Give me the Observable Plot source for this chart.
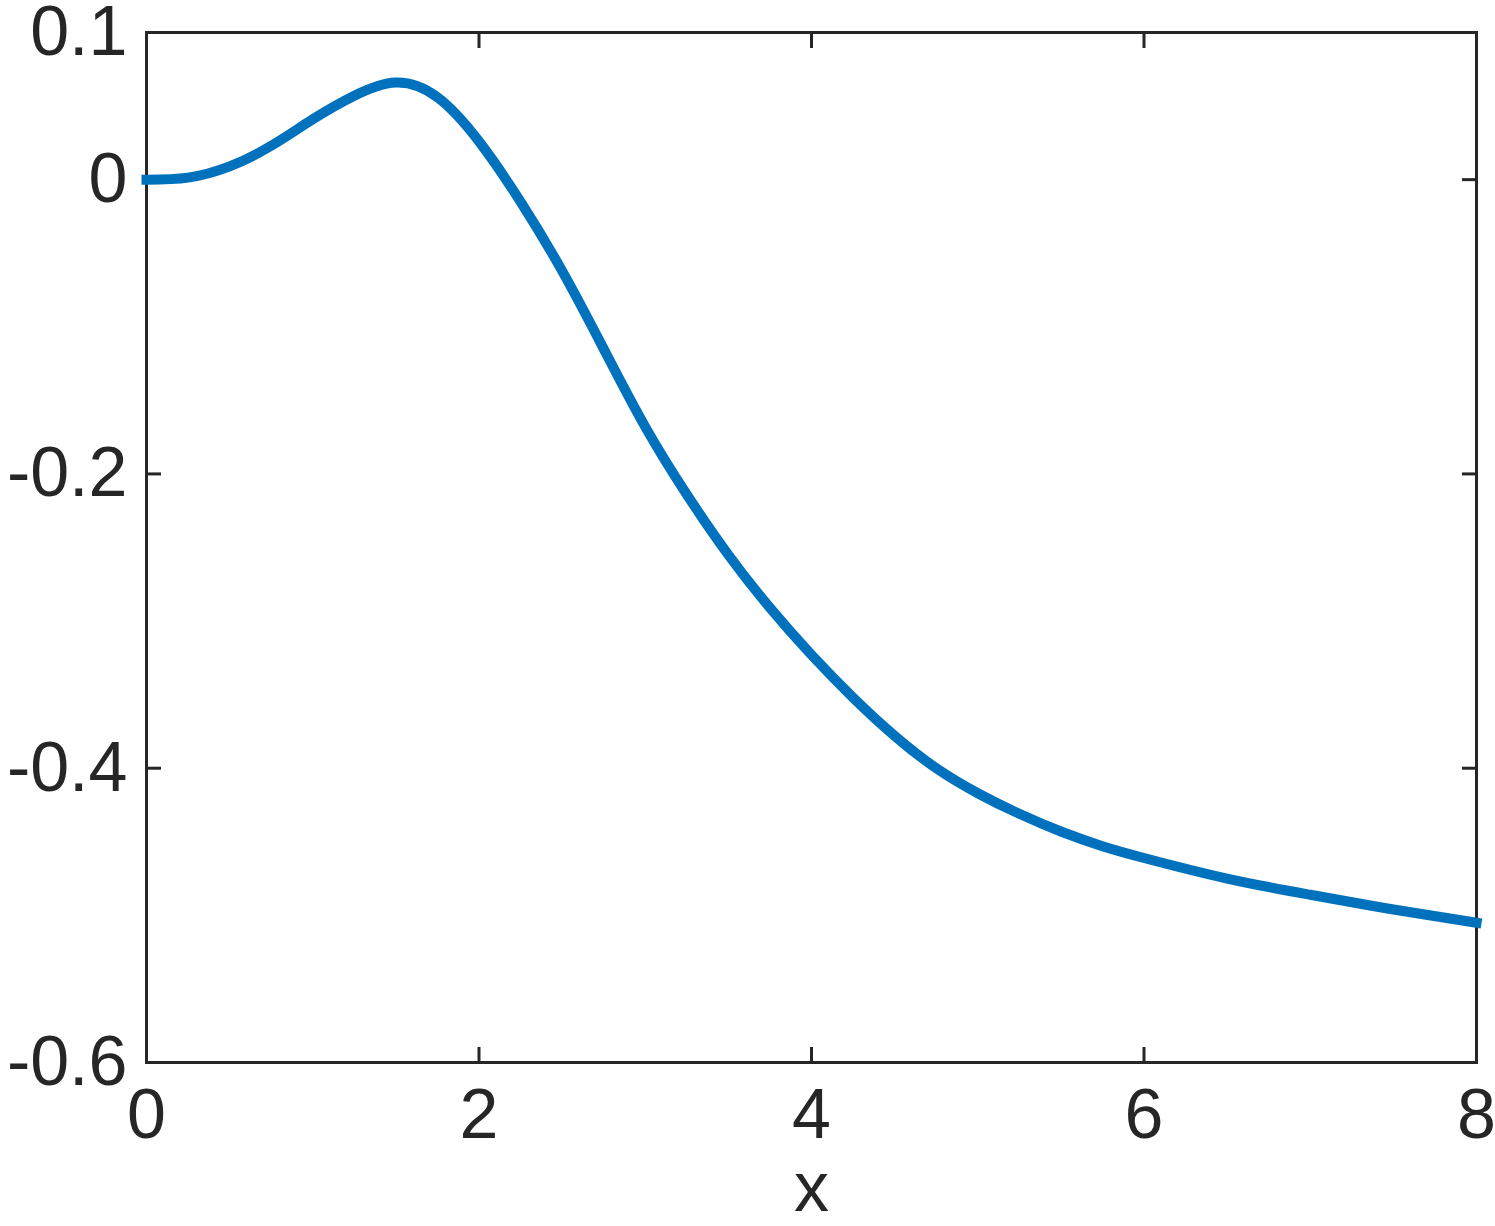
<!DOCTYPE html>
<html><head><meta charset="utf-8">
<script src="https://cdn.jsdelivr.net/npm/d3@7"></script>
<script src="https://cdn.jsdelivr.net/npm/@observablehq/plot@0.6"></script>
<style>html,body{margin:0;padding:0;background:#fff}</style>
</head><body><div id="chart"></div>
<script>
const xs = [0, 0.25, 0.5, 0.75, 1.0, 1.25, 1.5, 1.75, 2.0, 2.25, 2.5, 2.75, 3.0, 3.25, 3.5, 3.75, 4.0, 4.25, 4.5, 4.75, 5.0, 5.25, 5.5, 5.75, 6.0, 6.5, 7.0, 7.5, 8.0];
const ys = [0, 0.0014, 0.009, 0.023, 0.041, 0.057, 0.066, 0.056, 0.026, -0.015, -0.062, -0.115, -0.168, -0.214, -0.255, -0.291, -0.323, -0.352, -0.378, -0.400, -0.417, -0.431, -0.443, -0.453, -0.461, -0.475, -0.486, -0.496, -0.505];
const xTicks = [0, 2, 4, 6, 8];
const xTickLabels = ["0", "2", "4", "6", "8"];
const yTicks = [0.1, 0, -0.2, -0.4, -0.6];
const yTickLabels = ["0.1", "0", "-0.2", "-0.4", "-0.6"];
const xLabel = "x";

const data = xs.map((x, i) => ({x, y: ys[i]}));
const ink = "#262626";
const fmtX = d => xTickLabels[xTicks.indexOf(d)];
const fmtY = d => yTickLabels[yTicks.indexOf(d)];

const chart = Plot.plot({
  width: 1495, height: 1226,
  marginLeft: 146, marginRight: 19, marginTop: 32, marginBottom: 164,
  style: {fontFamily: "'Liberation Sans', Arial, Helvetica, sans-serif", fontSize: "70px", color: ink, background: "#fff", overflow: "visible"},
  x: {domain: [0, 8], label: null},
  y: {domain: [-0.6, 0.1], label: null},
  marks: [
    Plot.frame({stroke: ink, strokeWidth: 3}),
    // inward ticks on all four sides
    Plot.axisX(xTicks, {anchor: "bottom", tickSize: 15, dy: -15, strokeWidth: 3, stroke: ink, fill: "none", label: null}),
    Plot.axisX(xTicks, {anchor: "top", tickSize: 15, dy: 15, strokeWidth: 3, stroke: ink, fill: "none", label: null}),
    Plot.axisY(yTicks, {anchor: "left", tickSize: 15, dx: 15, strokeWidth: 3, stroke: ink, fill: "none", label: null}),
    Plot.axisY(yTicks, {anchor: "right", tickSize: 15, dx: -15, strokeWidth: 3, stroke: ink, fill: "none", label: null}),
    // tick labels
    Plot.axisX(xTicks, {anchor: "bottom", tickSize: 0, tickPadding: 26, tickFormat: fmtX, fill: ink, fontSize: 70,
      label: xLabel, labelAnchor: "center", labelOffset: 148, labelArrow: "none"}),
    Plot.axisY(yTicks, {anchor: "left", tickSize: 0, tickPadding: 19, tickFormat: fmtY, fill: ink, fontSize: 70, label: null}),
    Plot.line(data, {x: "x", y: "y", stroke: "#0072BD", strokeWidth: 10, curve: "natural", strokeLinecap: "square"})
  ]
});
document.getElementById("chart").appendChild(chart);
</script>
</body></html>
